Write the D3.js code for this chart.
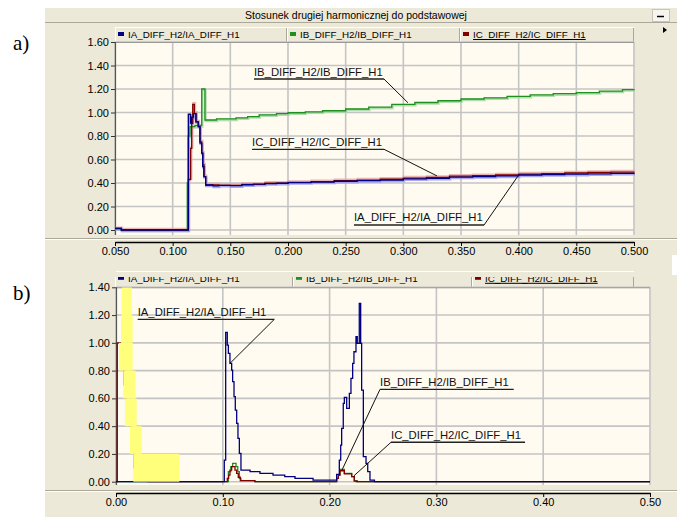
<!DOCTYPE html>
<html>
<head>
<meta charset="utf-8">
<script src="https://cdn.jsdelivr.net/npm/d3@7"></script>
<style>
  body { margin: 0; background: #fff; }
  svg { display: block; }
</style>
</head>
<body>
<svg id="fig" width="677" height="517"></svg>
<script>
// ---- data ----
const titleText = 'Stosunek drugiej harmonicznej do podstawowej';
const seriesNames = ['IA_DIFF_H2/IA_DIFF_H1', 'IB_DIFF_H2/IB_DIFF_H1', 'IC_DIFF_H2/IC_DIFF_H1'];

const xTicksA = [0.05, 0.10, 0.15, 0.20, 0.25, 0.30, 0.35, 0.40, 0.45, 0.50];
const yTicksA = [0, 0.2, 0.4, 0.6, 0.8, 1.0, 1.2, 1.4, 1.6];
const xTicksB = [0, 0.1, 0.2, 0.3, 0.4, 0.5];
const yTicksB = [0, 0.2, 0.4, 0.6, 0.8, 1.0, 1.2, 1.4];

// panel a) [time, ratio], step after
const iaA = [[0.050, 0.015], [0.0555, 0], [0.1136, 0.985], [0.1155, 0.91], [0.1165, 0.96], [0.1180, 0.99],
  [0.1202, 0.92], [0.1222, 0.88], [0.1237, 0.74], [0.1252, 0.655], [0.1260, 0.54], [0.1270, 0.454],
  [0.1286, 0.383], [0.135, 0.375], [0.140, 0.38], [0.150, 0.377], [0.160, 0.385], [0.170, 0.39],
  [0.180, 0.395], [0.190, 0.398], [0.200, 0.403], [0.220, 0.408], [0.240, 0.415], [0.260, 0.42],
  [0.280, 0.425], [0.300, 0.435], [0.320, 0.44], [0.340, 0.45], [0.360, 0.455], [0.380, 0.46],
  [0.400, 0.468], [0.420, 0.472], [0.440, 0.475], [0.460, 0.478], [0.480, 0.482], [0.500, 0.485]];
const ibA = [[0.050, 0.012], [0.0555, 0], [0.1127, 0.40], [0.1135, 0.80], [0.1150, 0.88], [0.1193, 0.89],
  [0.1252, 1.2], [0.128, 0.936], [0.138, 0.945], [0.155, 0.955], [0.165, 0.965], [0.175, 0.98],
  [0.190, 0.99], [0.200, 0.998], [0.215, 1.005], [0.230, 1.015], [0.250, 1.03], [0.270, 1.045],
  [0.290, 1.07], [0.310, 1.085], [0.330, 1.10], [0.350, 1.115], [0.370, 1.125], [0.390, 1.138],
  [0.410, 1.15], [0.430, 1.16], [0.450, 1.17], [0.470, 1.182], [0.490, 1.195], [0.500, 1.20]];
const icA = [[0.050, 0.012], [0.0555, 0], [0.1136, 0.43], [0.1156, 0.695], [0.1165, 0.908], [0.1174, 1.07],
  [0.1188, 0.993], [0.1202, 0.92], [0.1222, 0.88], [0.1237, 0.75], [0.1252, 0.655], [0.1262, 0.553],
  [0.1272, 0.454], [0.1286, 0.383], [0.140, 0.38], [0.160, 0.388], [0.180, 0.398], [0.200, 0.405],
  [0.220, 0.412], [0.240, 0.42], [0.260, 0.425], [0.280, 0.432], [0.300, 0.442], [0.320, 0.448],
  [0.340, 0.458], [0.360, 0.462], [0.380, 0.468], [0.400, 0.476], [0.420, 0.48], [0.440, 0.485],
  [0.460, 0.49], [0.480, 0.493], [0.500, 0.495]];

// panel b)
const iaB = [[0, 0], [0.1014, 0.156], [0.1027, 1.076], [0.1042, 0.984], [0.1052, 0.924], [0.1067, 0.852],
  [0.1083, 0.804], [0.1092, 0.72], [0.1105, 0.612], [0.1117, 0.516], [0.1130, 0.42], [0.1142, 0.312],
  [0.1155, 0.204], [0.1170, 0.084], [0.1255, 0.072], [0.1348, 0.060], [0.147, 0.048], [0.158, 0.036],
  [0.1676, 0.024], [0.1845, 0.012], [0.2066, 0.053], [0.2091, 0.156], [0.2104, 0.264], [0.2113, 0.384],
  [0.2128, 0.564], [0.2138, 0.608], [0.2160, 0.528], [0.2185, 0.636], [0.2200, 0.744], [0.2216, 0.852],
  [0.2228, 0.936], [0.2247, 1.044], [0.2259, 0.996], [0.2278, 1.284], [0.2291, 0.996], [0.2300, 0.66],
  [0.2316, 0.18], [0.2341, 0.132], [0.2357, 0.072], [0.2378, 0.012], [0.242, 0], [0.5, 0]];
const ibB = [[0, 0], [0.1052, 0.072], [0.1075, 0.108], [0.1092, 0.132], [0.1124, 0.108], [0.1140, 0.072],
  [0.1155, 0.024], [0.1170, 0.008], [0.130, 0], [0.2066, 0.024], [0.2082, 0.048], [0.2097, 0.089],
  [0.2138, 0.06], [0.2207, 0.036], [0.2231, 0.008], [0.226, 0], [0.5, 0]];
const icB = [[0, 0], [0.0012, 1.0], [0.0045, 0.9], [0.0075, 0.7], [0.0095, 0.5], [0.014, 0.3], [0.017, 0.1], [0.03, 0],
  [0.1042, 0.024], [0.1055, 0.048], [0.1067, 0.084], [0.1083, 0.108], [0.1114, 0.084], [0.1130, 0.06],
  [0.1145, 0.032], [0.1164, 0.008], [0.130, 0], [0.2066, 0.024], [0.2082, 0.048], [0.2097, 0.079],
  [0.2138, 0.056], [0.2207, 0.036], [0.2231, 0.004], [0.225, 0], [0.5, 0]];

// yellow highlighted cells in b): [t0, t1, v0, v1]
const highlightB = [[0.0053, 0.0147, 1.2, 1.4], [0.0047, 0.0156, 1.0, 1.2], [0.0028, 0.0156, 0.8, 1.0],
  [0.0068, 0.0184, 0.6, 0.8], [0.0084, 0.0194, 0.4, 0.6], [0.0131, 0.0241, 0.2, 0.4], [0.0162, 0.0593, 0, 0.2]];

// callouts: series index, underline start/end time, underline level, target point, leader side
const calloutsA = [
  { s: 1, t0: 0.1705, t1: 0.2832, v: 1.285, tt: 0.304, tv: 1.083, side: 'right' },
  { s: 2, t0: 0.1688, t1: 0.2832, v: 0.687, tt: 0.3292, tv: 0.46, side: 'right' },
  { s: 0, t0: 0.2572, t1: 0.3700, v: 0.0426, tt: 0.400, tv: 0.468, side: 'right' }];
const calloutsB = [
  { s: 0, t0: 0.0203, t1: 0.1482, v: 1.169, tt: 0.1067, tv: 0.852, side: 'right' },
  { s: 1, t0: 0.2472, t1: 0.3724, v: 0.665, tt: 0.2116, tv: 0.084, side: 'left' },
  { s: 2, t0: 0.2575, t1: 0.3830, v: 0.284, tt: 0.2226, tv: 0.041, side: 'left' }];

// ---- styling ----
const UI = '#ece9d8', PLOT_BG = '#fffbf0', GRID = '#c4c4c4', EDGE = '#aca899';
const FONT = '"Liberation Sans", Arial, sans-serif';
const colors = ['#000080', '#1f8f1f', '#800000'];
const halo = ['#9a9af0', '#a6d8a6', '#e8a8a8'];
const haloShift = [1, 1, -1];

const svg = d3.select('#fig');

// window background
svg.append('rect').attr('x', 45).attr('y', 7).attr('width', 632).attr('height', 510).attr('fill', UI);
svg.append('rect').attr('x', 672).attr('y', 255).attr('width', 5).attr('height', 20).attr('fill', '#fff');

// title bar
svg.append('line').attr('x1', 45).attr('x2', 677).attr('y1', 22.5).attr('y2', 22.5).attr('stroke', EDGE);
svg.append('line').attr('x1', 45).attr('x2', 677).attr('y1', 7.5).attr('y2', 7.5).attr('stroke', '#fff');
svg.append('text').attr('x', 356).attr('y', 15).attr('text-anchor', 'middle').attr('dominant-baseline', 'central')
  .style('font-family', FONT).style('font-size', '10.5px').text(titleText);
svg.append('rect').attr('x', 652.5).attr('y', 9.5).attr('width', 17).attr('height', 12)
  .attr('fill', '#f6f5f0').attr('stroke', '#c8c5b5');
svg.append('line').attr('x1', 657).attr('x2', 664).attr('y1', 16.5).attr('y2', 16.5).attr('stroke', '#000').attr('stroke-width', 1.5);
svg.append('path').attr('d', 'M663,27 L667,30 L663,33 Z').attr('fill', '#000');

// panel letters
svg.append('text').attr('x', 13).attr('y', 50).style('font-family', '"Liberation Serif", "Times New Roman", serif')
  .style('font-size', '21px').text('a)');
svg.append('text').attr('x', 13).attr('y', 300).style('font-family', '"Liberation Serif", "Times New Roman", serif')
  .style('font-size', '21px').text('b)');

function panel(o) {
  const x = d3.scaleLinear().domain(o.xDomain).range([o.left, o.right]);
  const y = d3.scaleLinear().domain(o.yDomain).range([o.zeroY, o.topY]);
  const g = svg.append('g');

  // legend band
  const leg = g.append('g');
  if (o.legendClip) {
    const id = 'clip' + o.id;
    svg.append('clipPath').attr('id', id).append('rect')
      .attr('x', 0).attr('y', o.legendClip).attr('width', 677).attr('height', 40);
    leg.attr('clip-path', `url(#${id})`);
  }
  g.append('line').attr('x1', o.left).attr('x2', o.legendRight).attr('y1', o.legendTop + 0.5).attr('y2', o.legendTop + 0.5)
    .attr('stroke', '#fff');
  o.tabs.forEach((t, i) => {
    leg.append('line').attr('x1', t[0] + 0.5).attr('x2', t[0] + 0.5).attr('y1', o.legendTop).attr('y2', o.topY)
      .attr('stroke', '#fff');
    leg.append('line').attr('x1', t[1] - 0.5).attr('x2', t[1] - 0.5).attr('y1', o.legendTop).attr('y2', o.topY)
      .attr('stroke', EDGE);
    leg.append('rect').attr('x', t[0] + 3).attr('y', o.legendTop + o.legendMid - 2.5).attr('width', 6).attr('height', 4)
      .attr('fill', colors[i]);
    const tx = leg.append('text').attr('x', t[0] + 13).attr('y', o.legendTop + o.legendMid).attr('dominant-baseline', 'central')
      .style('font-family', FONT).style('font-size', '9.8px').text(seriesNames[i]);
    if (i === 2) {
      const w = tx.node().getComputedTextLength();
      leg.append('line').attr('x1', t[0] + 13).attr('x2', t[0] + 13 + w)
        .attr('y1', o.legendTop + o.legendMid + 5).attr('y2', o.legendTop + o.legendMid + 5).attr('stroke', '#000');
    }
  });

  // plot background
  g.append('rect').attr('x', o.left).attr('y', o.topY).attr('width', o.right - o.left)
    .attr('height', o.bgBottom - o.topY).attr('fill', PLOT_BG);

  // grid
  g.append('g').selectAll('line').data(o.yTicks).join('line')
    .attr('x1', o.left).attr('x2', o.right).attr('y1', d => y(d)).attr('y2', d => y(d))
    .attr('stroke', GRID).attr('stroke-width', 1.6);
  g.append('g').selectAll('line').data(o.xTicks).join('line')
    .attr('x1', d => x(d)).attr('x2', d => x(d)).attr('y1', o.topY).attr('y2', o.bgBottom)
    .attr('stroke', GRID).attr('stroke-width', 1.6);
  g.append('line').attr('x1', o.left).attr('x2', o.right).attr('y1', o.topY + 0.5).attr('y2', o.topY + 0.5)
    .attr('stroke', '#9a9a9a');

  // y axis line
  g.append('line').attr('x1', o.left + 0.5).attr('x2', o.left + 0.5).attr('y1', o.topY).attr('y2', o.bgBottom)
    .attr('stroke', '#555').attr('stroke-width', 1.2);

  // plot content clipped
  const cid = 'plot' + o.id;
  svg.append('clipPath').attr('id', cid).append('rect')
    .attr('x', o.left).attr('y', o.topY).attr('width', o.right - o.left + 1).attr('height', o.bgBottom - o.topY);
  const pg = g.append('g').attr('clip-path', `url(#${cid})`);

  const line = d3.line().x(d => x(d[0])).y(d => y(d[1])).curve(d3.curveStepAfter);
  if (o.halo) {
    o.order.forEach(i => {
      pg.append('path').attr('d', line(o.series[i])).attr('fill', 'none')
        .attr('stroke', halo[i]).attr('stroke-width', 2.4).attr('stroke-opacity', 0.85)
        .attr('transform', `translate(0.6,${haloShift[i]})`);
    });
  }
  o.order.forEach(i => {
    pg.append('path').attr('d', line(o.series[i])).attr('fill', 'none')
      .attr('stroke', colors[i]).attr('stroke-width', 1.3);
  });

  if (o.highlight) {
    pg.append('g').selectAll('rect').data(o.highlight).join('rect')
      .attr('x', d => x(d[0])).attr('width', d => x(d[1]) - x(d[0]))
      .attr('y', d => y(d[3])).attr('height', d => y(d[2]) - y(d[3]))
      .attr('fill', '#ffff7c');
  }

  // callouts
  o.callouts.forEach(c => {
    const ux0 = x(c.t0), ux1 = x(c.t1), uy = y(c.v);
    g.append('text').attr('x', ux0).attr('y', uy - 3.5)
      .style('font-family', FONT).style('font-size', '11.3px').attr('fill', '#111').text(seriesNames[c.s]);
    g.append('line').attr('x1', ux0).attr('x2', ux1).attr('y1', uy).attr('y2', uy)
      .attr('stroke', '#222').attr('stroke-width', 1.3);
    const sx = c.side === 'right' ? ux1 : ux0;
    g.append('line').attr('x1', sx).attr('y1', uy).attr('x2', x(c.tt)).attr('y2', y(c.tv))
      .attr('stroke', '#111').attr('stroke-width', 1);
  });

  // y axis ticks and labels
  const ya = g.append('g').attr('transform', `translate(${o.left},0)`)
    .call(d3.axisLeft(y).tickValues(o.yTicks).tickFormat(d3.format('.2f')).tickSize(4).tickPadding(2));
  ya.select('.domain').remove();
  ya.selectAll('line').attr('stroke', '#333');
  ya.selectAll('text').style('font-family', FONT).style('font-size', '11px').attr('fill', '#000');

  // separator and x axis
  g.append('line').attr('x1', 45).attr('x2', 677).attr('y1', o.sepY + 0.5).attr('y2', o.sepY + 0.5).attr('stroke', EDGE);
  g.append('line').attr('x1', 45).attr('x2', 677).attr('y1', o.sepY + 1.5).attr('y2', o.sepY + 1.5).attr('stroke', '#fff');
  const xa = g.append('g').attr('transform', `translate(0,${o.axisY})`)
    .call(d3.axisBottom(x).tickValues(o.xTicks).tickFormat(d3.format(o.xFormat)).tickSize(4).tickSizeOuter(0).tickPadding(1));
  xa.select('.domain').attr('stroke', '#000').attr('stroke-width', 1.3);
  xa.selectAll('line').attr('stroke', '#000');
  xa.selectAll('text').style('font-family', FONT).style('font-size', '11px').attr('fill', '#000');
}

panel({
  id: 'a', xDomain: [0.05, 0.5], yDomain: [0, 1.6],
  left: 115, right: 634, zeroY: 230, topY: 42, bgBottom: 235,
  legendTop: 27, legendMid: 7.5, legendRight: 634, tabs: [[115, 287], [287, 460], [460, 634]],
  sepY: 238, axisY: 242, xTicks: xTicksA, yTicks: yTicksA, xFormat: '.3f',
  series: [iaA, ibA, icA], order: [1, 2, 0], halo: true,
  callouts: calloutsA
});

panel({
  id: 'b', xDomain: [0, 0.5], yDomain: [0, 1.4],
  left: 116, right: 650, zeroY: 481.7, topY: 287.3, bgBottom: 485,
  legendTop: 271, legendMid: 7.3, legendRight: 634, legendClip: 277, tabs: [[115, 293], [293, 472], [472, 634]],
  sepY: 490, axisY: 493, xTicks: xTicksB, yTicks: yTicksB, xFormat: '.2f',
  series: [iaB, ibB, icB], order: [1, 2, 0], halo: false, highlight: highlightB,
  callouts: calloutsB
});
</script>
</body>
</html>
